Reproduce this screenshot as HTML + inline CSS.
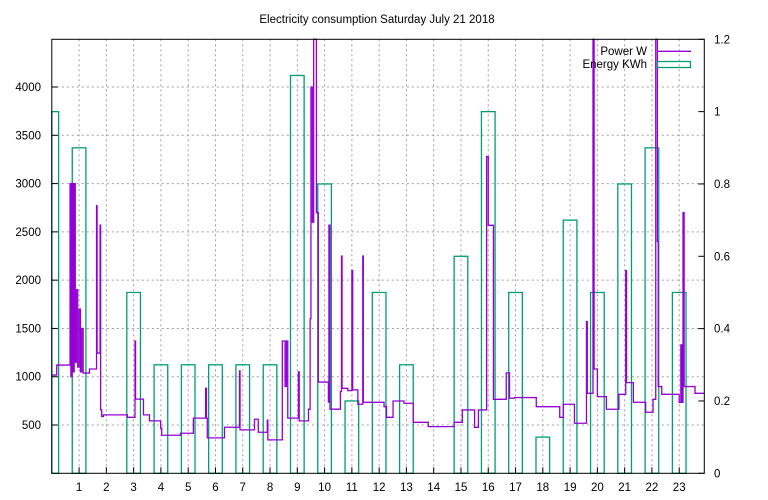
<!DOCTYPE html>
<html><head><meta charset="utf-8"><style>
body{margin:0;background:#fff;}
svg{display:block;font-family:"Liberation Sans",sans-serif;font-size:11.5px;}
</style></head><body>
<svg id="chart" width="768" height="500" viewBox="0 0 768 500">
<rect x="0" y="0" width="768" height="500" fill="#fff"/>
<text x="377" y="23" text-anchor="middle" fill="#000">Electricity consumption Saturday July 21 2018</text>
<g id="grid"></g><g id="bars"></g><g id="line"></g><g id="axes"></g>
<g>
<text x="647" y="55" text-anchor="end">Power W</text>
<line x1="657" y1="51.3" x2="691" y2="51.3" stroke="#9400d3" stroke-width="1.3"/>
<text x="647" y="68" text-anchor="end">Energy KWh</text>
<rect x="657.5" y="61.5" width="33" height="6" fill="none" stroke="#009e73" stroke-width="1.3"/>
</g>
</svg>
<script>
const hours=[0,1,2,3,4,5,6,7,8,9,10,11,12,13,14,15,16,17,18,19,20,21,22,23];
const energy=[1.0,0.9,0,0.5,0.3,0.3,0.3,0.3,0.3,1.1,0.8,0.2,0.5,0.3,0,0.6,1.0,0.5,0.1,0.7,0.5,0.8,0.9,0.5];
const leftTicks=[500,1000,1500,2000,2500,3000,3500,4000];
const rightTicks=[0,0.2,0.4,0.6,0.8,1,1.2];
const rightTickLabels=["0","0.2","0.4","0.6","0.8","1","1.2"];
const xTicks=[1,2,3,4,5,6,7,8,9,10,11,12,13,14,15,16,17,18,19,20,21,22,23];
const powerT=[
0,0.18,0.67,0.70,0.74,0.78,0.82,0.86,0.90,0.95,
1.00,1.05,1.10,1.15,1.38,1.64,1.66,1.77,1.79,1.83,
1.89,2.77,3.05,3.07,3.36,3.58,3.99,4.03,4.72,5.19,
5.64,5.67,5.70,6.33,6.88,6.90,7.43,7.57,7.90,7.92,
8.45,8.55,8.60,8.65,9.04,9.07,9.41,9.47,9.50,9.55,
9.60,9.70,9.77,10.14,10.16,10.20,10.58,10.62,10.64,10.85,
11.00,11.03,11.22,11.40,11.42,12.18,12.27,12.51,12.91,13.25,
13.80,14.75,15.05,15.50,15.64,15.94,16.00,16.19,16.66,16.78,
16.96,17.76,18.62,18.75,19.16,19.60,19.63,19.84,19.88,20.00,
20.33,20.79,21.04,21.07,21.32,21.77,22.04,22.14,22.20,22.23,
22.36,23.00,23.06,23.10,23.14,23.18,23.58];
const powerW=[
1017,1121,3000,1000,3000,1050,3000,1150,1900,1100,
1700,1050,1500,1038,1080,2770,1245,2570,657,588,
605,580,1370,768,605,543,467,394,415,571,
880,571,367,477,1060,450,560,425,550,346,
1370,900,1370,571,1050,543,664,1600,4000,2600,
4494,2700,945,737,2570,664,846,2250,880,856,
2100,863,715,2250,735,690,580,749,725,528,
483,528,656,476,656,3280,2568,766,1040,777,
784,690,580,715,518,1570,828,4494,1080,794,
663,818,2100,939,735,632,766,4494,2400,898,
818,735,1330,735,2700,898,828];
const X0=51.8,X1=704.3,Y0=473.3,Y1=39.3,XMAX=23.92,WMAX=4494,EMAX=1.2;
const xs=h=>X0+(X1-X0)*Math.max(0,Math.min(h,XMAX))/XMAX;
const yw=w=>Y0-(Y0-Y1)*Math.min(w,WMAX)/WMAX;
const ye=e=>Y0-(Y0-Y1)*e/EMAX;
const NS="http://www.w3.org/2000/svg";
function mk(tag,attrs,parent,txt){const el=document.createElementNS(NS,tag);for(const k in attrs)el.setAttribute(k,attrs[k]);if(txt!==undefined)el.textContent=txt;parent.appendChild(el);return el;}
const grid=document.getElementById('grid'),bars=document.getElementById('bars'),line=document.getElementById('line'),axes=document.getElementById('axes');
leftTicks.forEach(v=>{const g=mk('line',{x1:X0,x2:X1,y1:yw(v),y2:yw(v),stroke:'#a0a0a0','stroke-dasharray':'2,3','stroke-width':1},grid);


const t=mk('text',{x:41,y:yw(v)+4,'text-anchor':'end',fill:'#000'},axes,String(v));


mk('line',{x1:X0,x2:X0+6,y1:yw(v),y2:yw(v),stroke:'#000'},axes);});
xTicks.forEach(h=>{const g=mk('line',{x1:xs(h),x2:xs(h),y1:Y1,y2:Y0,stroke:'#a0a0a0','stroke-dasharray':'2,3','stroke-width':1},grid);


const t=mk('text',{x:xs(h),y:491,'text-anchor':'middle',fill:'#000'},axes,String(h));


mk('line',{x1:xs(h),x2:xs(h),y1:Y0,y2:Y0-6,stroke:'#000'},axes);});
rightTicks.forEach((v,i)=>{const t=mk('text',{x:714,y:ye(v)+4,'text-anchor':'start',fill:'#000'},axes,rightTickLabels[i]);


mk('line',{x1:X1,x2:X1-6,y1:ye(v),y2:ye(v),stroke:'#000'},axes);});
hours.forEach((h,i)=>{if(energy[i]<=0)return;const l=xs(h-0.25),r=xs(h+0.25);
const b=mk('rect',{x:l,y:ye(energy[i]),width:r-l,height:Y0-ye(energy[i]),fill:'none',stroke:'#009e73','stroke-width':1.3},bars);

});
let d='';const n=Math.min(powerT.length,powerW.length);
for(let i=0;i<n;i++){const x=xs(powerT[i]),y=yw(powerW[i]);
if(i===0)d+='M'+x+','+y;else d+='H'+x+'V'+y;}
d+='H'+X1;
const p=mk('path',{d:d,fill:'none',stroke:'#9400d3','stroke-width':1.3},line);


const fr=mk('rect',{x:X0,y:Y1,width:X1-X0,height:Y0-Y1,fill:'none',stroke:'#000','stroke-width':1},axes);


</script>
</body></html>
